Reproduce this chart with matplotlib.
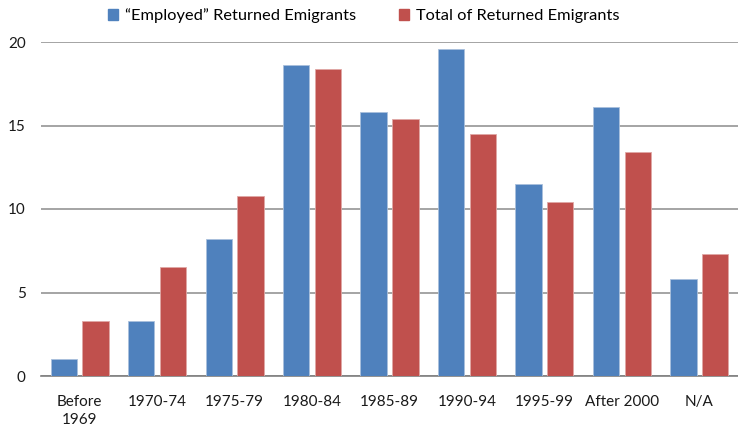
import numpy as np
import matplotlib
matplotlib.use("Agg")
import matplotlib.pyplot as plt
from matplotlib.patches import Patch

plt.rcParams["font.family"] = ["Lato", "DejaVu Sans"]

periods = ["Before\n1969", "1970-74", "1975-79", "1980-84", "1985-89",
           "1990-94", "1995-99", "After 2000", "N/A"]
employed = [1.0, 3.3, 8.2, 18.6, 15.8, 19.6, 11.5, 16.1, 5.8]
total = [3.3, 6.5, 10.8, 18.4, 15.4, 14.5, 10.4, 13.4, 7.3]

BLUE = "#4F81BD"
RED = "#C0504D"

fig = plt.figure(figsize=(7.38, 4.29), dpi=100)
ax = fig.add_axes([41 / 738, 53 / 429, 697 / 738, 334 / 429])

x = np.arange(len(periods))
w = 0.34
ax.bar(x - 0.205, employed, w, color=BLUE, edgecolor="#a9c0dc", linewidth=0.6, zorder=3)
ax.bar(x + 0.205, total, w, color=RED, edgecolor="#e0a8a6", linewidth=0.6, zorder=3)

ax.set_xlim(-0.5, len(periods) - 0.5)
ax.set_ylim(0, 20)
ax.set_yticks([0, 5, 10, 15, 20])
ax.set_xticks(x)
ax.set_xticklabels(periods, fontsize=11, color="#1a1a1a", linespacing=1.35)
ax.tick_params(axis="both", length=0, labelsize=11, colors="#1a1a1a")
ax.tick_params(axis="x", pad=14)
ax.tick_params(axis="y", pad=11)
for lab in ax.get_xticklabels():
    lab.set_verticalalignment("top")

ax.yaxis.grid(True, color="#8c8c8c", linewidth=1.1, zorder=0)
for s in ["top", "right", "left"]:
    ax.spines[s].set_visible(False)
ax.spines["bottom"].set_color("#7f7f7f")
ax.spines["bottom"].set_linewidth(1.2)

handles = [Patch(color=BLUE, label="\u201cEmployed\u201d Returned Emigrants"),
           Patch(color=RED, label="Total of Returned Emigrants")]
fig.legend(handles=handles, loc="center", bbox_to_anchor=(0.4925, 0.963), ncol=2,
           frameon=False, fontsize=11.8, handlelength=0.65, handleheight=0.65,
           handletextpad=0.4, columnspacing=2.6)

fig.savefig("out.png", dpi=100)
